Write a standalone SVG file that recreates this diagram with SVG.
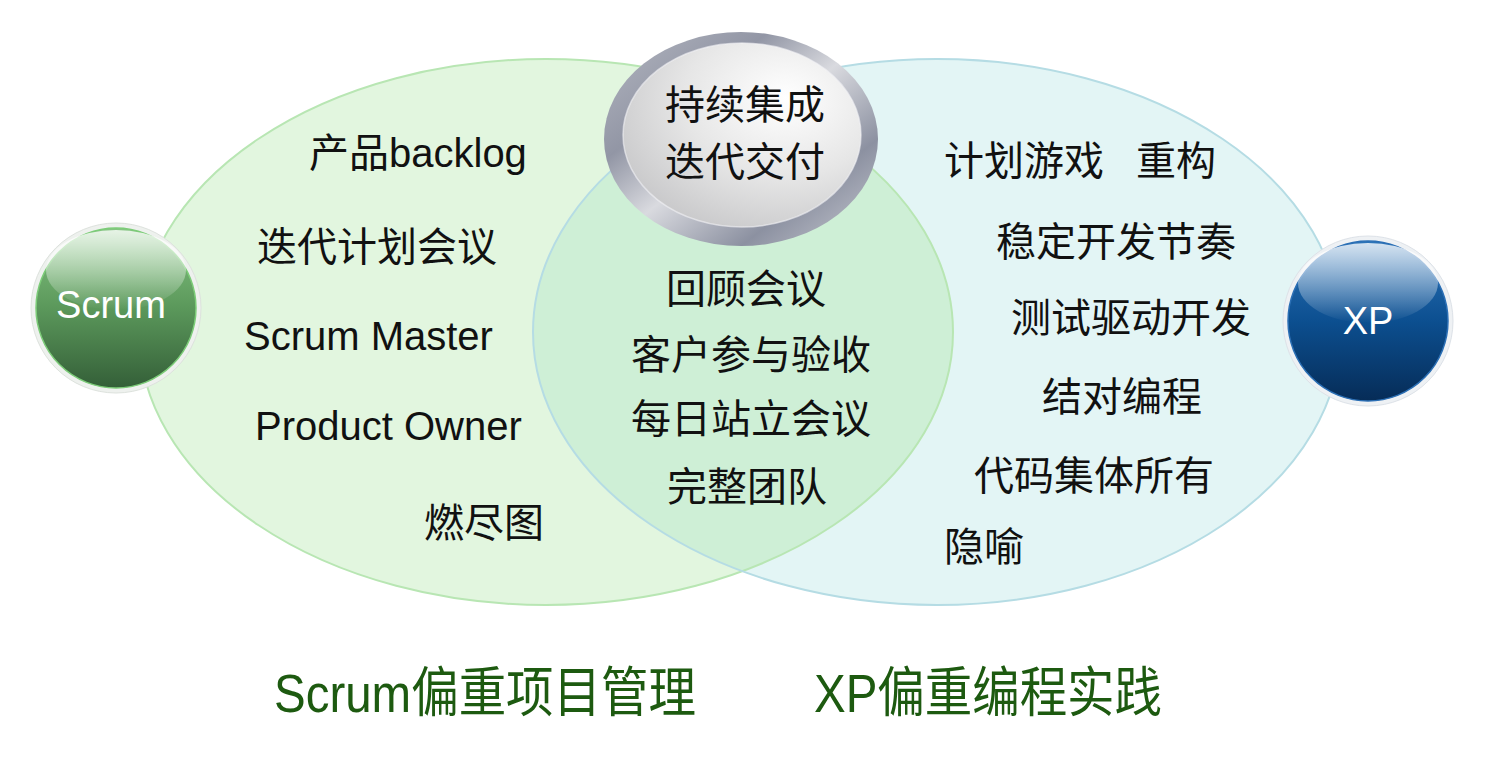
<svg xmlns="http://www.w3.org/2000/svg" width="1500" height="758" viewBox="0 0 1500 758">
  <style>
    .t { font-family: "Liberation Sans", "Noto Sans CJK SC", sans-serif; font-size: 40px; fill: #111; }
    .m { text-anchor: middle; }
    .ball { font-family: "Liberation Sans", "Noto Sans CJK SC", sans-serif; font-size: 38px; fill: #fff; text-anchor: middle; }
    .title { font-family: "Liberation Sans", "Noto Sans CJK SC", sans-serif; font-size: 54px; fill: #1d5a10; }
  </style>
  <defs>
    <clipPath id="clipLeft">
      <ellipse cx="546" cy="332" rx="407" ry="273"/>
    </clipPath>
    <linearGradient id="gScrum" x1="0" y1="0" x2="0" y2="1">
      <stop offset="0" stop-color="#86c583"/>
      <stop offset="0.5" stop-color="#5b985b"/>
      <stop offset="1" stop-color="#345f38"/>
    </linearGradient>
    <linearGradient id="gXP" x1="0" y1="0" x2="0" y2="1">
      <stop offset="0" stop-color="#2d74b8"/>
      <stop offset="0.5" stop-color="#0c4f90"/>
      <stop offset="1" stop-color="#062c57"/>
    </linearGradient>
    <linearGradient id="gHi" x1="0" y1="0" x2="0" y2="1">
      <stop offset="0" stop-color="#ffffff" stop-opacity="0.8"/>
      <stop offset="1" stop-color="#ffffff" stop-opacity="0"/>
    </linearGradient>
    <linearGradient id="gRing" x1="0" y1="0" x2="1" y2="1">
      <stop offset="0" stop-color="#b4b7c1"/>
      <stop offset="0.3" stop-color="#9296a5"/>
      <stop offset="0.5" stop-color="#d9dadf"/>
      <stop offset="0.75" stop-color="#8c91a1"/>
      <stop offset="1" stop-color="#c9cbd3"/>
    </linearGradient>
    <radialGradient id="gInner" cx="0.68" cy="0.3" r="0.85">
      <stop offset="0" stop-color="#ffffff"/>
      <stop offset="0.5" stop-color="#e6e6e6"/>
      <stop offset="1" stop-color="#c3c3c5"/>
    </radialGradient>
  </defs>

  <g id="venn">
    <ellipse id="xp-area" cx="937" cy="332" rx="404" ry="273" fill="#e3f5f5"/>
    <ellipse id="scrum-area" cx="546" cy="332" rx="407" ry="273" fill="#e2f6df"/>
    <ellipse id="overlap" cx="937" cy="332" rx="404" ry="273" fill="#ceefd6" clip-path="url(#clipLeft)"/>
    <ellipse cx="546" cy="332" rx="407" ry="273" fill="none" stroke="#b8e6b3" stroke-width="2"/>
    <ellipse cx="937" cy="332" rx="404" ry="273" fill="none" stroke="#b5dce4" stroke-width="2"/>
  </g>

  <g id="center-oval">
    <ellipse cx="741" cy="139" rx="137" ry="107" fill="url(#gRing)"/>
    <ellipse cx="742" cy="135" rx="119" ry="92" fill="url(#gInner)" stroke="#f4f4f6" stroke-opacity="0.6" stroke-width="1.5"/>
    <text class="t m" x="745" y="119">持续集成</text>
    <text class="t m" x="745" y="176">迭代交付</text>
  </g>

  <g id="scrum-node">
    <circle cx="116" cy="308" r="85" fill="#eef1ee" stroke="#dde2dd" stroke-width="1"/>
    <circle cx="116" cy="308" r="80" fill="url(#gScrum)" stroke="#7ccc78" stroke-width="1.5"/>
    <ellipse cx="116" cy="270" rx="70" ry="40" fill="url(#gHi)"/>
    <text class="ball" x="111" y="318">Scrum</text>
  </g>

  <g id="xp-node">
    <circle cx="1368" cy="321" r="85" fill="#eef1f4" stroke="#dde2e8" stroke-width="1"/>
    <circle cx="1368" cy="321" r="80" fill="url(#gXP)" stroke="#2b6fb5" stroke-width="1.5"/>
    <ellipse cx="1368" cy="283" rx="70" ry="40" fill="url(#gHi)"/>
    <text class="ball" x="1368" y="334">XP</text>
  </g>

  <g id="scrum-items">
    <text class="t" x="309" y="167">产品backlog</text>
    <text class="t" x="257" y="261">迭代计划会议</text>
    <text class="t" x="244" y="350">Scrum Master</text>
    <text class="t" x="255" y="440">Product Owner</text>
    <text class="t" x="424" y="537">燃尽图</text>
  </g>

  <g id="shared-items">
    <text class="t m" x="746" y="303">回顾会议</text>
    <text class="t m" x="751" y="369">客户参与验收</text>
    <text class="t m" x="751" y="433">每日站立会议</text>
    <text class="t m" x="747" y="501">完整团队</text>
  </g>

  <g id="xp-items">
    <text class="t" x="944" y="175">计划游戏</text>
    <text class="t" x="1136" y="175">重构</text>
    <text class="t" x="996" y="256">稳定开发节奏</text>
    <text class="t" x="1011" y="332">测试驱动开发</text>
    <text class="t" x="1042" y="411">结对编程</text>
    <text class="t" x="974" y="490">代码集体所有</text>
    <text class="t" x="944" y="561">隐喻</text>
  </g>

  <g id="titles">
    <text class="title" x="274" y="712" textLength="422" lengthAdjust="spacingAndGlyphs">Scrum偏重项目管理</text>
    <text class="title" x="814" y="712" textLength="348" lengthAdjust="spacingAndGlyphs">XP偏重编程实践</text>
  </g>
</svg>
